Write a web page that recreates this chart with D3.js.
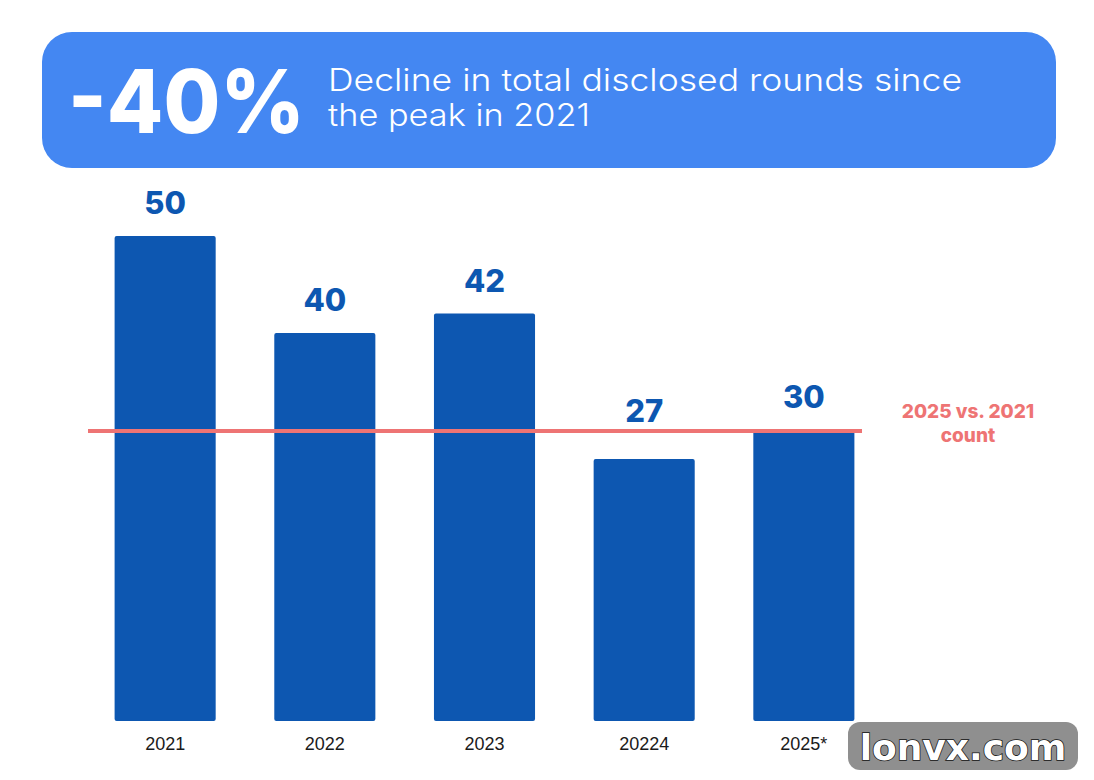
<!DOCTYPE html>
<html>
<head>
<meta charset="utf-8">
<script src="https://cdn.jsdelivr.net/npm/d3@7"></script>
<style>
  body { margin: 0; background: #fff; }
  svg { display: block; }
</style>
</head>
<body>
<div id="chart"></div>
<script>
// Data
const years = ["2021", "2022", "2023", "20224", "2025*"];
const rounds = [50, 40, 42, 27, 30];
const refValue = 30;
const refLabel = ["2025 vs. 2021", "count"];

const width = 1094;
const height = 780;

const svg = d3.select("#chart")
  .append("svg")
  .attr("width", width)
  .attr("height", height);

// Banner
svg.append("rect")
  .attr("x", 42).attr("y", 32)
  .attr("width", 1014).attr("height", 136)
  .attr("rx", 30)
  .attr("fill", "#4487f2");

svg.append("text")
  .attr("x", 68).attr("y", 133)
  .attr("font-family", "Inter, 'Noto Sans', sans-serif")
  .attr("font-weight", 800)
  .attr("font-size", 88)
  .attr("textLength", 237)
  .attr("lengthAdjust", "spacingAndGlyphs")
  .attr("fill", "#fff")
  .text("-40%");

const desc = svg.append("g")
  .attr("font-family", "Inter, 'Noto Sans', sans-serif")
  .attr("font-weight", 300)
  .attr("font-size", 31)
  .attr("fill", "#fff");
desc.append("text").attr("x", 328).attr("y", 91)
  .attr("textLength", 634).attr("lengthAdjust", "spacingAndGlyphs")
  .text("Decline in total disclosed rounds since");
desc.append("text").attr("x", 328).attr("y", 126)
  .attr("textLength", 262).attr("lengthAdjust", "spacingAndGlyphs")
  .text("the peak in 2021");

// Scales
const x = d3.scaleBand()
  .domain(years)
  .range([56, 913])
  .padding(0.367);

const y = d3.scaleLinear()
  .domain([0, 50])
  .range([721, 236]);

const refY = y(refValue) + 1;

// Bars
svg.selectAll("rect.bar")
  .data(years)
  .enter()
  .append("rect")
  .attr("class", "bar")
  .attr("x", d => x(d))
  .attr("y", (d, i) => y(rounds[i]))
  .attr("width", x.bandwidth())
  .attr("height", (d, i) => y(0) - y(rounds[i]))
  .attr("rx", 2)
  .attr("fill", "#0d57b1");

// Value labels (lifted above the reference line when they would collide)
function labelY(v) {
  const base = y(v) - 22;
  if (v < refValue && base > refY - 30) return refY - 9;
  return base;
}

svg.selectAll("text.val")
  .data(years)
  .enter()
  .append("text")
  .attr("class", "val")
  .attr("x", d => x(d) + x.bandwidth() / 2)
  .attr("y", (d, i) => labelY(rounds[i]))
  .attr("text-anchor", "middle")
  .attr("font-family", "Inter, 'Noto Sans', sans-serif")
  .attr("font-weight", 800)
  .attr("font-size", 31)
  .attr("fill", "#0d57b1")
  .text((d, i) => rounds[i]);

// X axis labels
const xAxis = svg.append("g")
  .attr("transform", `translate(0, ${y(0)})`)
  .call(d3.axisBottom(x).tickSize(0).tickPadding(16));
xAxis.select(".domain").remove();
xAxis.selectAll("text")
  .attr("font-family", "'Liberation Sans', Arial, sans-serif")
  .attr("font-size", 18)
  .attr("fill", "#1a1a1a");

// Reference line
svg.append("line")
  .attr("x1", 88).attr("x2", 862)
  .attr("y1", refY).attr("y2", refY)
  .attr("stroke", "#ee7474")
  .attr("stroke-width", 4);

const refText = svg.append("text")
  .attr("text-anchor", "middle")
  .attr("font-family", "Inter, 'Noto Sans', sans-serif")
  .attr("font-weight", 800)
  .attr("font-size", 19)
  .attr("fill", "#ee7474");
refText.selectAll("tspan")
  .data(refLabel)
  .enter()
  .append("tspan")
  .attr("x", 968)
  .attr("y", (d, i) => 418 + i * 24)
  .text(d => d);

// Watermark
svg.append("rect")
  .attr("x", 848).attr("y", 722)
  .attr("width", 230).attr("height", 48)
  .attr("rx", 12)
  .attr("fill", "#8f8f8f");
svg.append("text")
  .attr("x", 963).attr("y", 760)
  .attr("text-anchor", "middle")
  .attr("font-family", "'DejaVu Sans', sans-serif")
  .attr("font-weight", 700)
  .attr("font-size", 36)
  .attr("fill", "#fff")
  .attr("stroke", "#111")
  .attr("stroke-width", 1.5)
  .attr("paint-order", "stroke")
  .text("lonvx.com");
</script>
</body>
</html>
